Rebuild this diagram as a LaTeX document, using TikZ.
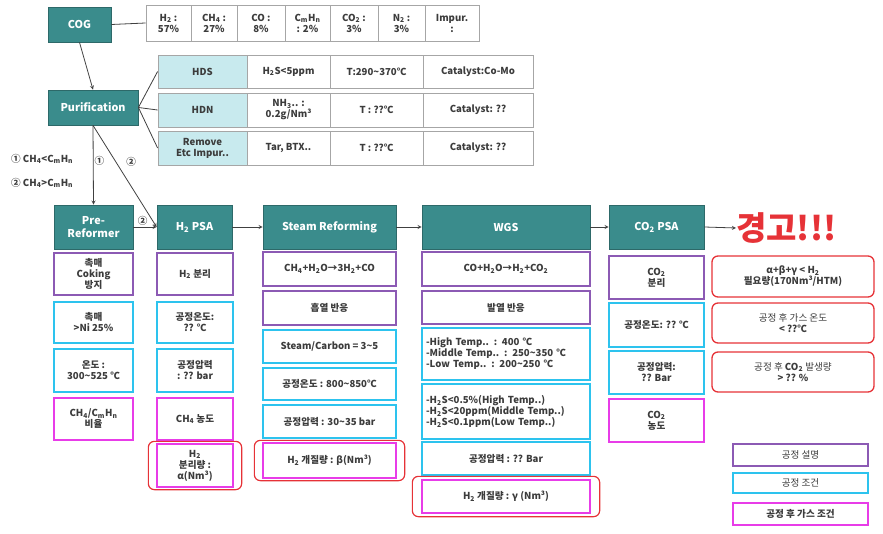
\documentclass[tikz,border=0pt]{standalone}
\usepackage{fontspec}
\setmainfont{Noto Sans CJK KR}
\usepackage{tikz}
\usetikzlibrary{fit}

\definecolor{headteal}{RGB}{58,140,140}
\definecolor{headdark}{RGB}{45,105,105}
\definecolor{cellcyan}{RGB}{200,234,238}
\definecolor{descpurple}{RGB}{140,90,180}
\definecolor{condcyan}{RGB}{45,195,238}
\definecolor{gasmagenta}{RGB}{232,60,232}
\definecolor{warnred}{RGB}{230,50,55}
\definecolor{txtgray}{RGB}{60,60,60}

\newcommand{\sbs}[1]{\textsubscript{#1}}

\begin{document}
\begin{tikzpicture}[x=1pt, y=-1pt, >=stealth,
    box/.style={align=center, inner sep=1pt, text=txtgray,
        font=\fontsize{9.6}{11}\selectfont\bfseries},
    head/.style={box, draw=headdark, fill=headteal, text=white, line width=0.8pt,
        font=\fontsize{10.8}{12.5}\selectfont\bfseries},
    desc/.style={box, draw=descpurple, line width=1.3pt, fill=white},
    cond/.style={box, draw=condcyan, line width=1.3pt, fill=white},
    gas/.style={box, draw=gasmagenta, line width=1.3pt, fill=white},
    warnbox/.style={box, draw=warnred, line width=1.3pt, rounded corners=6pt},
    cell/.style={box, draw=gray!70, line width=0.8pt},
    hcell/.style={cell, fill=cellcyan},
    outline/.style={draw=warnred, line width=1.2pt, rounded corners=6pt,
        inner xsep=8pt, inner ysep=2pt},
    ]
    \useasboundingbox (0,0) rectangle (883,534);

    % gas composition
    \node[head, minimum width=63, minimum height=35] (cog) at (79.5,24.5) {COG};
    \node[cell, minimum width=45, minimum height=36] (c1) at (168.5,23) {H\sbs{2} :\\57\%};
    \node[cell, minimum width=46, minimum height=36] (c2) at (214,23) {CH\sbs{4} :\\27\%};
    \node[cell, minimum width=48, minimum height=36] (c3) at (261,23) {CO :\\8\%};
    \node[cell, minimum width=45, minimum height=36] (c4) at (307.5,23) {C\sbs{m}H\sbs{n}\\: 2\%};
    \node[cell, minimum width=48, minimum height=36] (c5) at (354,23) {CO\sbs{2} :\\3\%};
    \node[cell, minimum width=47, minimum height=36] (c6) at (401.5,23) {N\sbs{2} :\\3\%};
    \node[cell, minimum width=54, minimum height=36] (c7) at (452,23) {Impur.\\:};
    \draw[thick, black!75] (cog.east) -- (c1.west);

    % purification
    \node[head, minimum width=90, minimum height=35] (purif) at (93,107.5) {Purification};
    \draw[->, thick, black!75] (cog.south) -- (purif.north);

    \node[hcell, minimum width=89, minimum height=33] (hds) at (202.5,71.5) {HDS};
    \node[cell, minimum width=83, minimum height=33] (hdsa) at (288.5,71.5) {H\sbs{2}S<5ppm};
    \node[cell, minimum width=93, minimum height=33] (hdsb) at (376.5,71.5) {T:290\textasciitilde370℃};
    \node[cell, minimum width=110, minimum height=33] (hdsc) at (478,71.5) {Catalyst:Co-Mo};

    \node[hcell, minimum width=89, minimum height=34] (hdn) at (202.5,110) {HDN};
    \node[cell, minimum width=83, minimum height=34] (hdna) at (288.5,110) {NH\sbs{3}.. :\\0.2g/Nm³};
    \node[cell, minimum width=93, minimum height=34] (hdnb) at (376.5,110) {T : ??℃};
    \node[cell, minimum width=110, minimum height=34] (hdnc) at (478,110) {Catalyst: ??};

    \node[hcell, minimum width=89, minimum height=34] (etc) at (202.5,148) {Remove\\Etc Impur..};
    \node[cell, minimum width=83, minimum height=34] (etca) at (288.5,148) {Tar, BTX..};
    \node[cell, minimum width=93, minimum height=34] (etcb) at (376.5,148) {T : ??℃};
    \node[cell, minimum width=110, minimum height=34] (etcc) at (478,148) {Catalyst: ??};

    \draw[thick, black!75] (purif.east) -- (hds.west);
    \draw[thick, black!75] (purif.east) -- (hdn.west);
    \draw[thick, black!75] (purif.east) -- (etc.west);

    % route choice
    \node[box, anchor=west] (rule1) at (10,159) {① CH\sbs{4}<C\sbs{m}H\sbs{n}};
    \node[box, anchor=west] (rule2) at (10,183) {② CH\sbs{4}>C\sbs{m}H\sbs{n}};

    % process headers
    \node[head, minimum width=79, minimum height=44] (pre) at (93.5,227) {Pre-\\Reformer};
    \node[head, minimum width=75, minimum height=44] (hpsa) at (194.5,227) {H\sbs{2} PSA};
    \node[head, minimum width=133, minimum height=44] (smr) at (329.5,227) {Steam Reforming};
    \node[head, minimum width=168, minimum height=44] (wgs) at (506,227) {WGS};
    \node[head, minimum width=95, minimum height=44] (cpsa) at (656.5,227) {CO\sbs{2} PSA};
    \node[text=warnred, font=\fontsize{33}{36}\selectfont\bfseries, inner sep=0pt,
        anchor=west] (warn) at (736,228) {경고!!!};

    \draw[->, thick, black!75] (purif.south) -- node[box, right, pos=0.45] {①} (pre.north);
    \draw[->, thick, black!75] (purif.south) -- node[box, right=9pt, pos=0.36] {②} (hpsa.west);
    \draw[->, thick, black!75] (pre.east) -- node[box, above, pos=0.4] {②} (hpsa.west);
    \draw[->, thick, black!75] (hpsa.east) -- (smr.west);
    \draw[->, thick, black!75] (smr.east) -- (wgs.west);
    \draw[->, thick, black!75] (wgs.east) -- (cpsa.west);
    \draw[->, thick, black!75] (cpsa.east) -- (warn.west);

    % pre-reformer
    \node[desc, minimum width=79, minimum height=42] (prea) at (93.5,274) {촉매\\Coking\\방지};
    \node[cond, minimum width=79, minimum height=41] (preb) at (93.5,322.5) {촉매\\>Ni 25\%};
    \node[cond, minimum width=79, minimum height=43] (prec) at (93.5,370.5) {온도 :\\300\textasciitilde525 ℃};
    \node[gas, minimum width=79, minimum height=42] (pred) at (93.5,419) {CH\sbs{4}/C\sbs{m}H\sbs{n}\\비율};

    % H2 PSA
    \node[desc, minimum width=76, minimum height=42] (hpsaa) at (195,274) {H\sbs{2} 분리};
    \node[cond, minimum width=76, minimum height=41] (hpsab) at (195,322.5) {공정온도:\\?? ℃};
    \node[cond, minimum width=76, minimum height=43] (hpsac) at (195,370.5) {공정압력\\: ?? bar};
    \node[gas, minimum width=76, minimum height=42] (hpsad) at (195,419) {CH\sbs{4} 농도};
    \node[gas, minimum width=76, minimum height=43] (hpsae) at (195,465.5) {H\sbs{2}\\분리량 :\\α(Nm³)};
    \node[outline, fit=(hpsae)] (hpsaw) {};

    % steam reforming
    \node[desc, minimum width=133, minimum height=34] (smra) at (329.5,269) {CH\sbs{4}+H\sbs{2}O→3H\sbs{2}+CO};
    \node[desc, minimum width=133, minimum height=34] (smrb) at (329.5,308) {흡열 반응};
    \node[cond, minimum width=133, minimum height=33] (smrc) at (329.5,346.5) {Steam/Carbon = 3\textasciitilde5};
    \node[cond, minimum width=133, minimum height=32] (smrd) at (329.5,384) {공정온도 : 800\textasciitilde850℃};
    \node[cond, minimum width=133, minimum height=33] (smre) at (329.5,421.5) {공정압력 : 30\textasciitilde35 bar};
    \node[gas, minimum width=133, minimum height=35] (smrf) at (329.5,460.5) {H\sbs{2} 개질량 : β(Nm³)};
    \node[outline, fit=(smrf)] (smrw) {};

    % water gas shift
    \node[desc, minimum width=168, minimum height=34] (wgsa) at (506,269) {CO+H\sbs{2}O→H\sbs{2}+CO\sbs{2}};
    \node[desc, minimum width=168, minimum height=33] (wgsb) at (506,307.5) {발열 반응};
    \node[cond, minimum width=168, minimum height=52, align=left, text width=160] (wgsc) at (506,354)
        {-High Temp.. : 400 ℃\\-Middle Temp.. : 250\textasciitilde350 ℃\\-Low Temp.. : 200\textasciitilde250 ℃};
    \node[cond, minimum width=168, minimum height=55, align=left, text width=160] (wgsd) at (506,411.5)
        {-H\sbs{2}S<0.5\%(High Temp..)\\-H\sbs{2}S<20ppm(Middle Temp..)\\-H\sbs{2}S<0.1ppm(Low Temp..)};
    \node[cond, minimum width=168, minimum height=33] (wgse) at (506,458.5) {공정압력 : ?? Bar};
    \node[gas, minimum width=168, minimum height=33] (wgsf) at (506,496.5) {H\sbs{2} 개질량 : γ (Nm³)};
    \node[outline, fit=(wgsf), inner xsep=9pt, inner ysep=3pt] (wgsw) {};

    % CO2 PSA
    \node[desc, minimum width=95, minimum height=43] (cpsaa) at (656.5,277.5) {CO\sbs{2}\\분리};
    \node[cond, minimum width=95, minimum height=44] (cpsab) at (656.5,325) {공정온도: ?? ℃};
    \node[cond, minimum width=95, minimum height=43] (cpsac) at (656.5,372.5) {공정압력:\\?? Bar};
    \node[gas, minimum width=95, minimum height=43] (cpsad) at (656.5,420.5) {CO\sbs{2}\\농도};

    % warnings
    \node[warnbox, minimum width=162, minimum height=41] (w1) at (793,276.5) {α+β+γ < H\sbs{2}\\필요량(170Nm³/HTM)};
    \node[warnbox, minimum width=162, minimum height=40] (w2) at (793,323) {\mdseries 공정 후 가스 온도\\\bfseries < ??℃};
    \node[warnbox, minimum width=162, minimum height=40] (w3) at (793,372) {\mdseries 공정 후 \bfseries CO\sbs{2} \mdseries 발생량\\\bfseries > ?? \%};

    % legend
    \node[desc, minimum width=135, minimum height=22] (key1) at (800.5,455) {\mdseries 공정 설명};
    \node[cond, minimum width=135, minimum height=20] (key2) at (800.5,483) {\mdseries 공정 조건};
    \node[gas, minimum width=135, minimum height=22] (key3) at (800.5,514) {공정 후 가스 조건};
\end{tikzpicture}
\end{document}
